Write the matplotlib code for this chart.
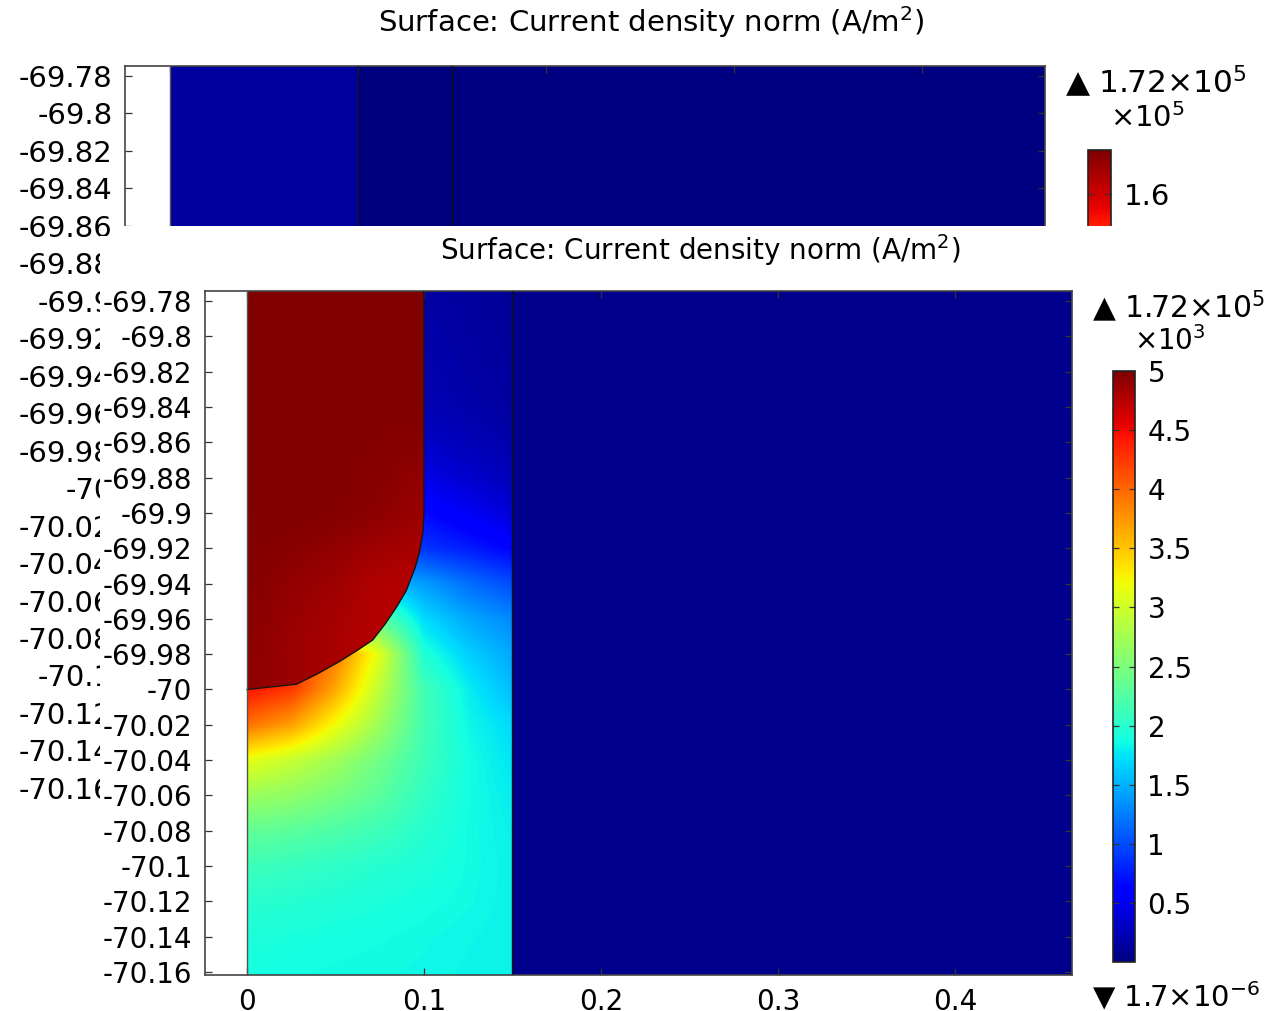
import numpy as np
import matplotlib.pyplot as plt
from matplotlib.colors import Normalize
from matplotlib.cm import ScalarMappable
from matplotlib.patches import Polygon, Rectangle
from matplotlib.ticker import FuncFormatter

W, H = 1266, 1011

# current density norm (A/m^2) on a regular grid over 0 <= x <= 0.15
x_cols = [0.0, 0.025, 0.05, 0.075, 0.1, 0.125, 0.15]
y_rows = [-69.78, -69.80, -69.82, -69.84, -69.86, -69.88, -69.90, -69.92,
          -69.94, -69.96, -69.98, -70.00, -70.02, -70.04, -70.06, -70.08,
          -70.10, -70.12, -70.14, -70.16]
J_field = [
    [180, 180, 180, 180, 175, 140, 110],
    [200, 200, 200, 200, 195, 155, 125],
    [220, 220, 220, 220, 215, 170, 135],
    [240, 240, 240, 240, 235, 190, 150],
    [330, 330, 330, 330, 320, 250, 190],
    [460, 460, 460, 460, 450, 350, 250],
    [700, 700, 700, 700, 660, 520, 380],
    [950, 950, 950, 950, 880, 760, 620],
    [1600, 1600, 1600, 1600, 1400, 1170, 1000],
    [2300, 2300, 2300, 2300, 1700, 1450, 1300],
    [4550, 4450, 3900, 3100, 1950, 1650, 1450],
    [4450, 4250, 3650, 2900, 2150, 1800, 1550],
    [3950, 3700, 3200, 2700, 2150, 1850, 1700],
    [3150, 2950, 2720, 2430, 2120, 1880, 1750],
    [2700, 2620, 2480, 2300, 2050, 1880, 1790],
    [2350, 2300, 2220, 2120, 1990, 1870, 1810],
    [2120, 2080, 2030, 1980, 1930, 1870, 1820],
    [2000, 1980, 1950, 1920, 1890, 1860, 1820],
    [1930, 1910, 1890, 1880, 1860, 1840, 1820],
    [1890, 1880, 1870, 1860, 1850, 1830, 1820],
]

# electrode (region above the arc)
x_el = [0.0, 0.025, 0.05, 0.075, 0.1]
y_el = [-69.77, -69.84, -69.90, -69.94, -69.97, -70.00]
J_el = [
    [5200, 5200, 5200, 5200, 5200],
    [5150, 5150, 5150, 5100, 5050],
    [5050, 5000, 4980, 4930, 4880],
    [4980, 4920, 4860, 4780, 4750],
    [4950, 4880, 4820, 4760, 4740],
    [4930, 4870, 4820, 4760, 4740],
]
# electrode outline: top edge, right wall, arc down to the axis
el_x = [0.0, 0.1, 0.1, 0.0994, 0.0975, 0.095, 0.090, 0.0847, 0.078,
        0.071, 0.062, 0.0525, 0.040, 0.028, 0.0]
el_y = [-69.77, -69.77, -69.90, -69.911, -69.922, -69.931, -69.944, -69.953,
        -69.963, -69.972, -69.978, -69.984, -69.991, -69.997, -70.00]

# outer region x > 0.15
x_out = [0.15, 0.5]
y_out = [-70.2, -69.7]
J_out = 70

J_max = 1.72e5
J_min = 1.7e-6


def px_axes(fig, x0, y0, x1, y1):
    return fig.add_axes([x0 / W, 1 - y1 / H, (x1 - x0) / W, (y1 - y0) / H])


def draw_field(ax, norm):
    dx = x_cols[1] - x_cols[0]
    dy = y_rows[0] - y_rows[1]
    im = ax.imshow(np.array(J_field, float), cmap='jet', norm=norm,
                   interpolation='bilinear', origin='upper', aspect='auto',
                   extent=[x_cols[0] - dx / 2, x_cols[-1] + dx / 2,
                           y_rows[-1] - dy / 2, y_rows[0] + dy / 2])
    # keep the image inside the strip 0 <= x <= 0.15 (a path clip keeps the axes clip too)
    x0, x1 = x_cols[0], x_cols[-1]
    strip = Polygon([(x0, -70.3), (x1, -70.3), (x1, -69.6), (x0, -69.6)],
                    closed=True, transform=ax.transData)
    im.set_clip_path(strip)
    ax.pcolormesh(x_out, y_out, np.array([[J_out]], float), cmap='jet', norm=norm)
    Xe, Ye = np.meshgrid(x_el, y_el)
    m = ax.pcolormesh(Xe, Ye, np.array(J_el, float), shading='gouraud',
                      cmap='jet', norm=norm)
    clip = Polygon(np.column_stack([el_x, el_y]), closed=True, transform=ax.transData)
    m.set_clip_path(clip)
    ax.plot(el_x[1:], el_y[1:], color='#151515', lw=1.0, zorder=3)
    ax.axvline(0.0, color='#555555', lw=1.0, zorder=3)
    ax.axvline(0.15, color='#101010', lw=1.0, zorder=3)


def style_axes(ax, fs, pad):
    for s in ax.spines.values():
        s.set_color('#444444')
        s.set_linewidth(1.2)
    ax.tick_params(direction='in', top=True, right=True, length=5, width=0.9,
                   color='#333333', labelsize=fs, pad=pad)
    fmt = FuncFormatter(lambda v, p: "0" if abs(v) < 1e-9 else f"{v:.2f}".rstrip('0').rstrip('.'))
    ax.xaxis.set_major_formatter(fmt)
    ax.yaxis.set_major_formatter(fmt)
    ax.set_xticks([0, 0.1, 0.2, 0.3, 0.4])
    ax.set_yticks(np.round(np.linspace(-69.78, -70.16, 20), 2))


def colorbar(fig, cax, norm, ticks, scale, fs):
    cb = fig.colorbar(ScalarMappable(norm=norm, cmap='jet'), cax=cax)
    cb.outline.set_edgecolor('#222222')
    cb.outline.set_linewidth(1.2)
    cb.set_ticks(ticks)
    cb.set_ticklabels([f"{t / scale:g}" for t in ticks])
    cax.minorticks_off()
    cax.tick_params(direction='in', left=True, right=True, length=4, width=0.9,
                    color='#333333', labelsize=fs, pad=9)
    return cb


fig = plt.figure(figsize=(W / 100, H / 100), dpi=100)

# window behind: same solution with the full colour range
fs_bg = 21
norm_bg = Normalize(0, J_max)
ax_bg = px_axes(fig, 125, 66, 1045, 792)
draw_field(ax_bg, norm_bg)
ax_bg.set_xlim(-0.02394, 0.4654)
ax_bg.set_ylim(-70.1622, -69.77466)
style_axes(ax_bg, fs_bg, 9)
ax_bg.tick_params(axis='x', labelbottom=False)
cax_bg = px_axes(fig, 1088, 150, 1111, 777)
colorbar(fig, cax_bg, norm_bg, [1.6e5], 1e5, fs_bg)
fig.text(651 / W, 1 - 22 / H, "Surface: Current density norm (A/m$^2$)",
         ha='center', va='center', fontsize=fs_bg, zorder=1)
fig.text(1065 / W, 1 - 82 / H, "▲ 1.72×10$^5$", ha='left', va='center',
         fontsize=fs_bg * 1.07, zorder=1)
fig.text(1110 / W, 1 - 118 / H, "×10$^5$", ha='left', va='center', fontsize=fs_bg, zorder=1)

# front window covers most of the one behind
fig.add_artist(Rectangle((113 / W, 0), 1 - 113 / W, 1 - 226 / H, transform=fig.transFigure,
                         fc='white', ec='none', zorder=5))
fig.add_artist(Rectangle((100 / W, 0), 13 / W, 1 - 236 / H, transform=fig.transFigure,
                         fc='white', ec='none', zorder=5))

# front window: colour range limited to 5e3
fs = 20
norm = Normalize(0, 5000)
ax = px_axes(fig, 205, 291, 1072, 975)
ax.set_zorder(10)
draw_field(ax, norm)
ax.set_xlim(-0.0237, 0.4661)
ax.set_ylim(-70.1617, -69.7743)
style_axes(ax, fs, 9)
cax = px_axes(fig, 1113, 371, 1135, 962)
cax.set_zorder(10)
colorbar(fig, cax, norm, [500, 1000, 1500, 2000, 2500, 3000, 3500, 4000, 4500, 5000], 1e3, fs)
fig.text(700 / W, 1 - 250 / H, "Surface: Current density norm (A/m$^2$)",
         ha='center', va='center', fontsize=fs, zorder=11)
fig.text(1092 / W, 1 - 306 / H, "▲ 1.72×10$^5$", ha='left', va='center',
         fontsize=fs * 1.07, zorder=11)
fig.text(1134 / W, 1 - 341 / H, "×10$^3$", ha='left', va='center', fontsize=fs, zorder=11)
fig.text(1092 / W, 1 - 997 / H, "▼ 1.7×10$^{-6}$", ha='left', va='center',
         fontsize=fs * 1.05, zorder=11)

fig.savefig("out.png", dpi=100)
